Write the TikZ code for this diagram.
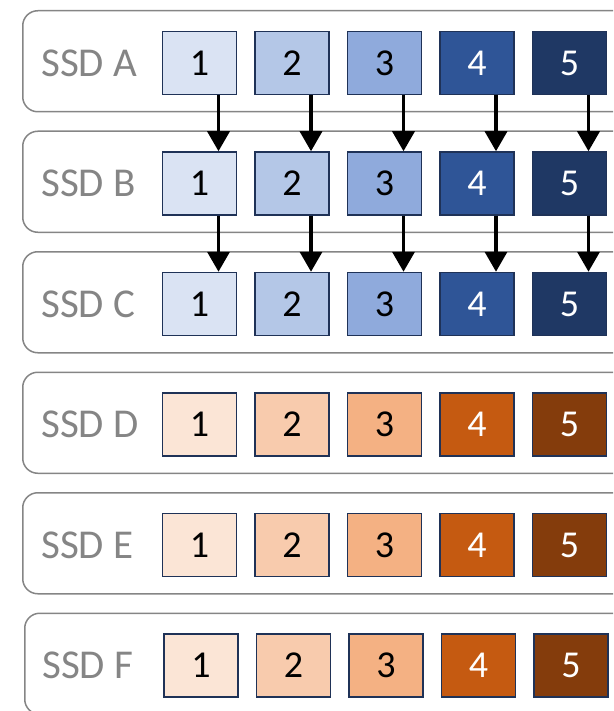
\documentclass[tikz,border=0pt]{standalone}
\usepackage{fontspec}
\setmainfont{Carlito}
\usepackage{tikz}
\usetikzlibrary{positioning, arrows.meta}

\definecolor{blueA}{HTML}{DAE3F3}
\definecolor{blueB}{HTML}{B4C7E7}
\definecolor{blueC}{HTML}{8FAADC}
\definecolor{blueD}{HTML}{2F5597}
\definecolor{blueE}{HTML}{1F3864}
\definecolor{orA}{HTML}{FBE5D6}
\definecolor{orB}{HTML}{F8CBAD}
\definecolor{orC}{HTML}{F4B183}
\definecolor{orD}{HTML}{C55A11}
\definecolor{orE}{HTML}{843C0C}
\definecolor{cellline}{HTML}{1F3257}
\definecolor{ssdgray}{HTML}{858585}

\begin{document}
\begin{tikzpicture}[
  x=1pt, y=-1pt,
  node distance=17pt,
  ssd/.style  ={rectangle, rounded corners=15pt, draw=ssdgray, line width=1.5pt,
                minimum width=640pt, minimum height=101pt, anchor=north west},
  tag/.style  ={anchor=west, inner sep=0pt, text=ssdgray,
                font=\fontsize{41}{49}\selectfont},
  cell/.style ={rectangle, draw=cellline, line width=1.5pt,
                minimum width=74pt, minimum height=63pt, inner sep=0pt,
                font=\fontsize{38}{45}\selectfont},
  dark/.style ={cell, text=white},
  flow/.style ={-{Triangle[length=20pt, width=22pt]}, line width=3.5pt}
]
\clip (0,0) rectangle (613,711);

% ---------- SSD frames ----------
\node[ssd] (ssdA) at (22,10)    {};
\node[ssd] (ssdB) at (22,130.5) {};
\node[ssd] (ssdC) at (22,251)   {};
\node[ssd] (ssdD) at (22,371.5) {};
\node[ssd] (ssdE) at (22,492)   {};
\node[ssd] (ssdF) at (24,612.5) {};

\node[tag] (tagA) at (41,63)    {SSD A};
\node[tag] (tagB) at (41,183.5) {SSD B};
\node[tag] (tagC) at (41,304)   {SSD C};
\node[tag] (tagD) at (41,424.5) {SSD D};
\node[tag] (tagE) at (41,545)   {SSD E};
\node[tag] (tagF) at (42,665.5) {SSD F};

% ---------- SSD A ----------
\node[cell, fill=blueA] (A1) at (199.5,63) {1};
\node[cell, fill=blueB, right=of A1] (A2) {2};
\node[cell, fill=blueC, right=of A2] (A3) {3};
\node[dark, fill=blueD, right=of A3] (A4) {4};
\node[dark, fill=blueE, right=of A4] (A5) {5};

% ---------- SSD B ----------
\node[cell, fill=blueA] (B1) at (199.5,183.5) {1};
\node[cell, fill=blueB, right=of B1] (B2) {2};
\node[cell, fill=blueC, right=of B2] (B3) {3};
\node[dark, fill=blueD, right=of B3] (B4) {4};
\node[dark, fill=blueE, right=of B4] (B5) {5};

% ---------- SSD C ----------
\node[cell, fill=blueA] (C1) at (199.5,304) {1};
\node[cell, fill=blueB, right=of C1] (C2) {2};
\node[cell, fill=blueC, right=of C2] (C3) {3};
\node[dark, fill=blueD, right=of C3] (C4) {4};
\node[dark, fill=blueE, right=of C4] (C5) {5};

% ---------- SSD D ----------
\node[cell, fill=orA] (D1) at (199.5,424.5) {1};
\node[cell, fill=orB, right=of D1] (D2) {2};
\node[cell, fill=orC, right=of D2] (D3) {3};
\node[dark, fill=orD, right=of D3] (D4) {4};
\node[dark, fill=orE, right=of D4] (D5) {5};

% ---------- SSD E ----------
\node[cell, fill=orA] (E1) at (199.5,545) {1};
\node[cell, fill=orB, right=of E1] (E2) {2};
\node[cell, fill=orC, right=of E2] (E3) {3};
\node[dark, fill=orD, right=of E3] (E4) {4};
\node[dark, fill=orE, right=of E4] (E5) {5};

% ---------- SSD F ----------
\node[cell, fill=orA] (F1) at (201,665.5) {1};
\node[cell, fill=orB, right=of F1] (F2) {2};
\node[cell, fill=orC, right=of F2] (F3) {3};
\node[dark, fill=orD, right=of F3] (F4) {4};
\node[dark, fill=orE, right=of F4] (F5) {5};

% ---------- Arrows ----------
\draw[flow] ([xshift=19pt]A1.south) -- ([xshift=19pt]B1.north);
\draw[flow] ([xshift=19pt]A2.south) -- ([xshift=19pt]B2.north);
\draw[flow] ([xshift=19pt]A3.south) -- ([xshift=19pt]B3.north);
\draw[flow] ([xshift=19pt]A4.south) -- ([xshift=19pt]B4.north);
\draw[flow] ([xshift=19pt]A5.south) -- ([xshift=19pt]B5.north);

\draw[flow] ([xshift=19pt]B1.south) -- ([xshift=19pt]C1.north);
\draw[flow] ([xshift=19pt]B2.south) -- ([xshift=19pt]C2.north);
\draw[flow] ([xshift=19pt]B3.south) -- ([xshift=19pt]C3.north);
\draw[flow] ([xshift=19pt]B4.south) -- ([xshift=19pt]C4.north);
\draw[flow] ([xshift=19pt]B5.south) -- ([xshift=19pt]C5.north);

\end{tikzpicture}
\end{document}
